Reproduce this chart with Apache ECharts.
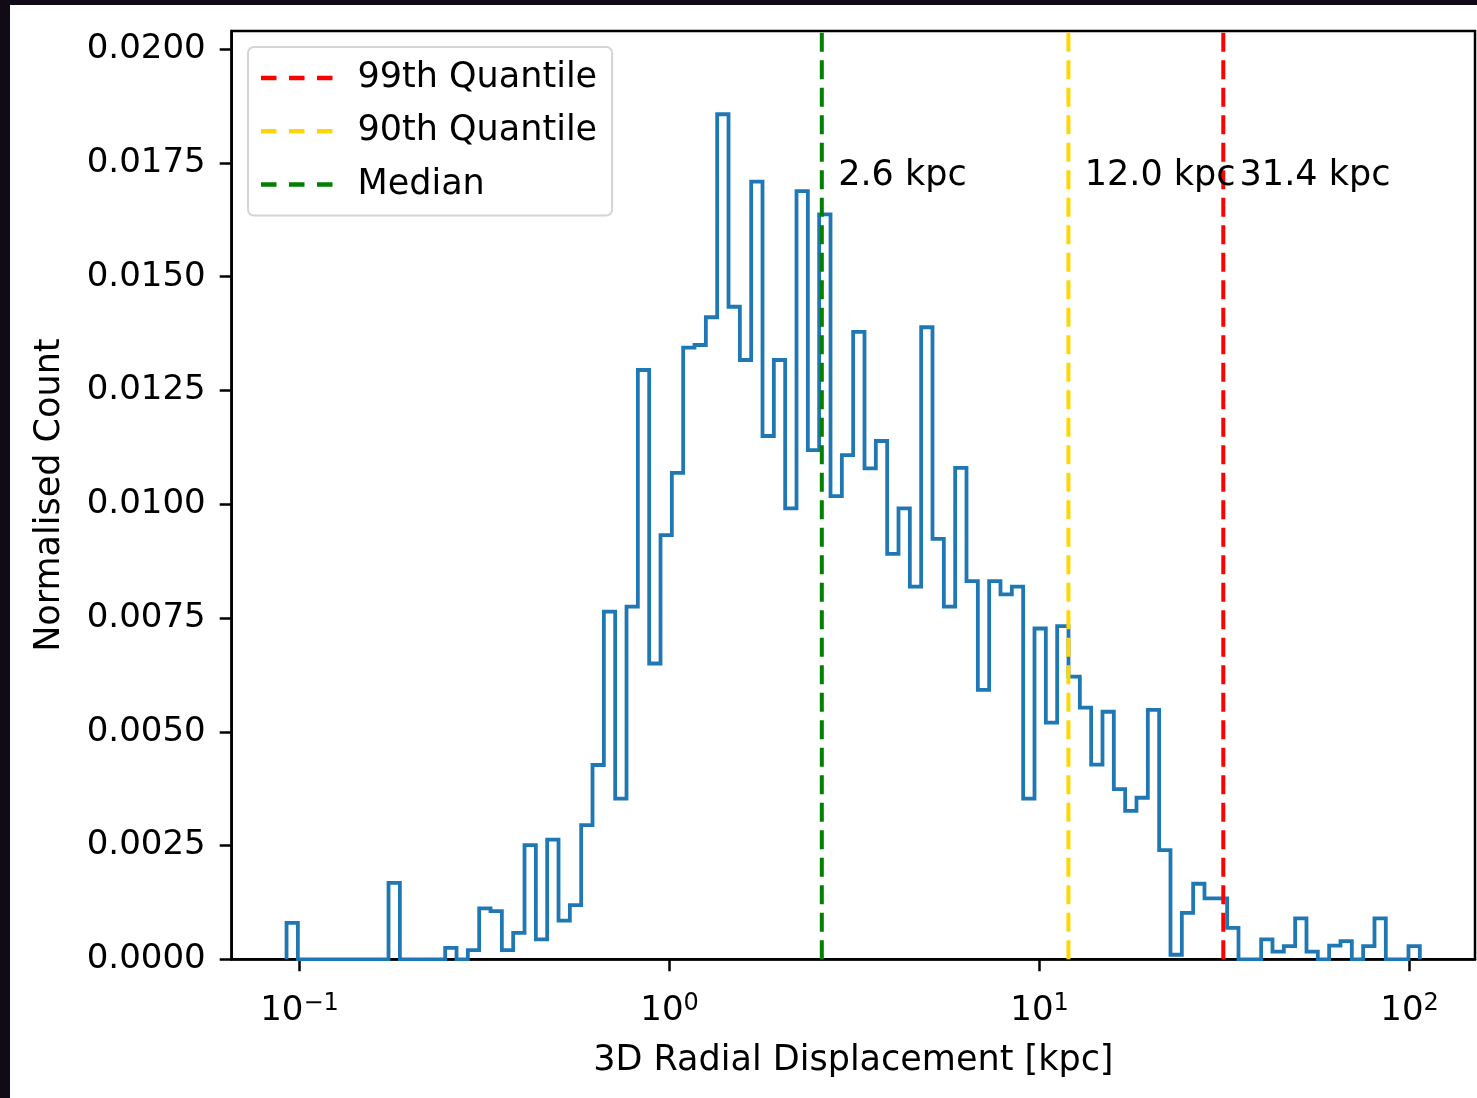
<!DOCTYPE html>
<html>
<head>
<meta charset="utf-8">
<script src="https://cdn.jsdelivr.net/npm/echarts@6/dist/echarts.min.js"></script>
<style>
html,body{margin:0;padding:0;width:1477px;height:1098px;overflow:hidden;background:#100b17;}
#chart{position:absolute;left:10px;top:5px;width:1467px;height:1093px;background:#ffffff;}
</style>
</head>
<body>
<div id="chart"></div>
<script>
// ---- data ----
const binLogMin = -1.0351;   // log10 of first bin edge (kpc)
const binLogMax = 2.0278;    // log10 of last bin edge (kpc)
const normalisedCounts = [
  0.00080, 0, 0, 0, 0, 0, 0, 0, 0, 0.00168, 0, 0, 0, 0, 0.00025, 0, 0.00020, 0.00112, 0.00106, 0.00020,
  0.00058, 0.00251, 0.00044, 0.00263, 0.00085, 0.00119, 0.00295, 0.00427, 0.00764, 0.00353,
  0.00775, 0.01295, 0.00650, 0.00932, 0.01069, 0.01344, 0.01350, 0.01411, 0.01857, 0.01434,
  0.01317, 0.01709, 0.01150, 0.01317, 0.00991, 0.01688, 0.01119, 0.01637, 0.01018, 0.01108,
  0.01379, 0.01079, 0.01139, 0.00891, 0.00991, 0.00819, 0.01389, 0.00924, 0.00775, 0.01080,
  0.00831, 0.00592, 0.00831, 0.00802, 0.00819, 0.00353, 0.00727, 0.00520, 0.00732, 0.00621,
  0.00553, 0.00428, 0.00544, 0.00374, 0.00326, 0.00355, 0.00548, 0.00240, 0.00010, 0.00102,
  0.00166, 0.00134, 0.00134, 0.00069, 0, 0, 0.00044, 0.00017, 0.00029, 0.00090,
  0.00017, 0, 0.00030, 0.00040, 0, 0.00029, 0.00090, 0, 0, 0.00029
];
const quantileNames = ['99th Quantile', '90th Quantile', 'Median'];
const quantileValues = [31.38, 11.97, 2.58];
const quantileColors = ['#ff0000', '#ffd700', '#008000'];
const yTickValues = [0, 0.0025, 0.005, 0.0075, 0.01, 0.0125, 0.015, 0.0175, 0.02];
const xTickValues = [0.1, 1, 10, 100];
const xAxisTitle = '3D Radial Displacement [kpc]';
const yAxisTitle = 'Normalised Count';

// ---- build ----
const FONT = 'DejaVu Sans';
const nBins = normalisedCounts.length;
const edges = [];
for (let k = 0; k <= nBins; k++) edges.push(Math.pow(10, binLogMin + k * (binLogMax - binLogMin) / nBins));
const stepPts = [[edges[0], 0]];
for (let k = 0; k < nBins; k++) {
  stepPts.push([edges[k], normalisedCounts[k]]);
  stepPts.push([edges[k + 1], normalisedCounts[k]]);
}
stepPts.push([edges[nBins], 0]);

const Y_MAX = 0.0204;
const X_MIN = 0.06557, X_MAX = 150.3;

function xLabel(v) {
  const e = Math.round(Math.log10(v));
  const s = String(e).replace('-', '−');
  return '{b|10}{s|' + s + '}';
}

const series = [{
  name: 'hist', type: 'line', data: stepPts, showSymbol: false, symbol: 'none',
  lineStyle: {color: '#1f77b4', width: 3.8, join: 'miter'}, itemStyle: {color: '#1f77b4'},
  animation: false, silent: true, z: 2
}];
quantileNames.forEach((nm, i) => {
  series.push({
    name: nm, type: 'line', data: [[quantileValues[i], 0], [quantileValues[i], Y_MAX]],
    showSymbol: false, symbol: 'none', color: quantileColors[i],
    itemStyle: {color: quantileColors[i]},
    lineStyle: {color: quantileColors[i], width: 4, type: [19, 8.5]},
    animation: false, silent: true, z: 3
  });
});
series.push({
  name: 'labels', type: 'scatter', symbolSize: 0, silent: true, animation: false, z: 4,
  itemStyle: {opacity: 1, color: '#000'},
  data: quantileValues.map(v => [v * 1.1, 0.017, v.toFixed(1) + ' kpc']),
  label: {show: true, position: [0, 0], align: 'left', verticalAlign: 'middle', offset: [1, -10],
          formatter: p => p.value[2], fontSize: 35, color: '#000000', opacity: 1,
          textBorderWidth: 0, fontFamily: FONT}
});

const chart = echarts.init(document.getElementById('chart'), null, {renderer: 'canvas'});
chart.setOption({
  animation: false,
  backgroundColor: '#ffffff',
  textStyle: {fontFamily: FONT},
  grid: {left: 221.7, right: 2, top: 26, bottom: 138.7, show: true, borderColor: '#000', borderWidth: 2.5, containLabel: false},
  legend: {
    orient: 'vertical', left: 238, top: 42,
    data: quantileNames.map(n => ({name: n, icon: 'path://M0,0h15.5v4.5h-15.5z M28,0h15.5v4.5h-15.5z M56,0h15.5v4.5h-15.5z'})),
    itemWidth: 71.5, itemHeight: 4.5, itemGap: 13.3,
    padding: [11, 15, 11, 13],
    backgroundColor: 'rgba(255,255,255,0.8)', borderColor: '#d4d4d4', borderWidth: 2, borderRadius: 6,
    textStyle: {fontSize: 35, color: '#000', fontFamily: FONT, lineHeight: 40, padding: [0, 0, 0, 20]},
    itemStyle: {borderWidth: 0}, selectedMode: false
  },
  xAxis: {
    type: 'log', logBase: 10, min: X_MIN, max: X_MAX,
    name: xAxisTitle, nameLocation: 'middle', nameGap: 84,
    nameTextStyle: {fontSize: 35, color: '#000', fontFamily: FONT},
    axisLine: {show: true, lineStyle: {color: '#000', width: 2.5}},
    axisTick: {show: true, customValues: xTickValues, length: 12, lineStyle: {color: '#000', width: 2.5}},
    axisLabel: {
      customValues: xTickValues, margin: 32, formatter: xLabel,
      rich: {
        b: {fontSize: 34, color: '#000', fontFamily: FONT, lineHeight: 40},
        s: {fontSize: 24, color: '#000', fontFamily: FONT, lineHeight: 24, verticalAlign: 'top'}
      }
    },
    splitLine: {show: false}, minorTick: {show: false}
  },
  yAxis: {
    type: 'value', min: 0, max: Y_MAX,
    name: yAxisTitle, nameLocation: 'middle', nameGap: 164,
    nameTextStyle: {fontSize: 35, color: '#000', fontFamily: FONT},
    axisLine: {show: true, lineStyle: {color: '#000', width: 2.5}},
    axisTick: {show: true, customValues: yTickValues, length: 12, lineStyle: {color: '#000', width: 2.5}},
    axisLabel: {customValues: yTickValues, margin: 26, padding: [9, 0, 0, 0], formatter: v => v.toFixed(4), fontSize: 34, color: '#000', fontFamily: FONT},
    splitLine: {show: false}
  },
  series: series
});
</script>
</body>
</html>
